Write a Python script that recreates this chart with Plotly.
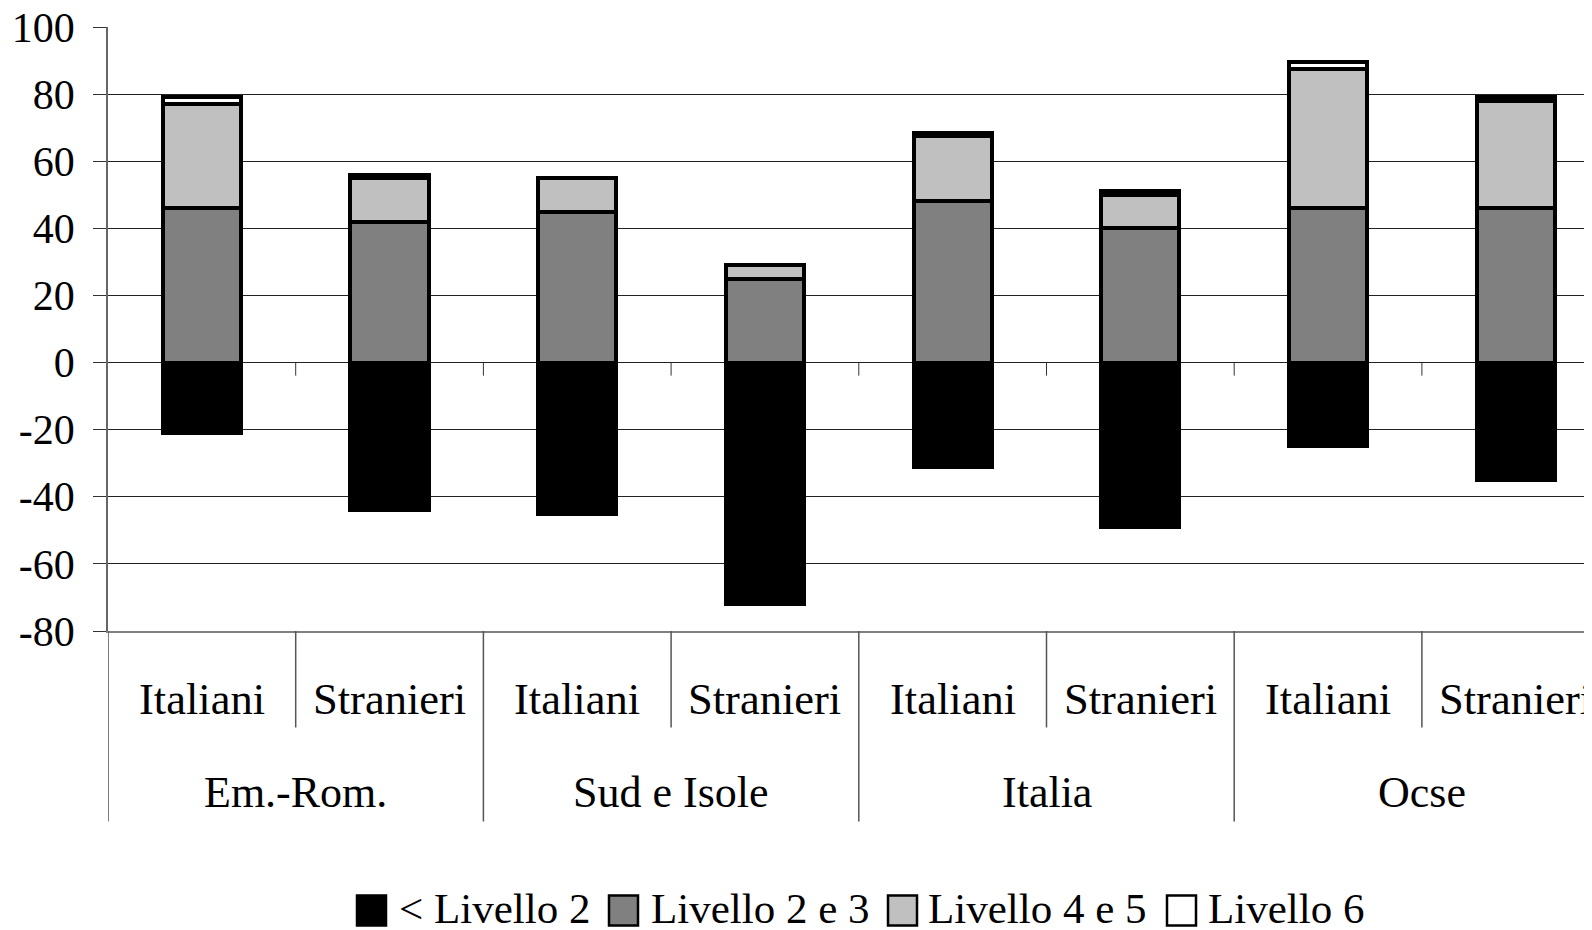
import plotly.graph_objects as go

# ---- data ----
groups = ["Em.-Rom.", "Sud e Isole", "Italia", "Ocse"]
subcats = ["Italiani", "Stranieri"]
below_l2 = [-21, -44, -45, -72, -31, -49, -25, -35]
l2_3 = [46, 42, 45, 25, 48, 40, 46, 46]
l4_5 = [31, 13, 10, 4, 19.5, 10, 41.5, 32]
l6 = [2, 1, 0, 0, 1, 1, 2, 1]
series_names = ["< Livello 2", "Livello 2 e 3", "Livello 4 e 5", "Livello 6"]
series_colors = ["#000000", "#808080", "#C0C0C0", "#FFFFFF"]
y_ticks = [-80, -60, -40, -20, 0, 20, 40, 60, 80, 100]

# ---- layout geometry (pixels, page coords; page body adds an 8px offset) ----
OFF = 8
W, H = 1592, 930
L, T, B = 108 - OFF, 27.4 - OFF, 631.5 - OFF
PW, PH = W - L, B - T
cat_px = 187.7
FONT = "Liberation Serif"

def px_x(px):
    return (px - OFF - L) / PW

def px_y(py):
    return (B - (py - OFF)) / PH

n = len(groups) * len(subcats)
xs = list(range(n))

fig = go.Figure()
for name, col, vals in zip(series_names, series_colors, [below_l2, l2_3, l4_5, l6]):
    fig.add_trace(go.Bar(
        x=xs, y=vals, name=name, width=0.417,
        marker=dict(color=col, line=dict(color="#000000", width=4)),
        showlegend=False,
    ))

shapes = []
annotations = []

for i in xs:
    annotations.append(dict(x=i, y=px_y(700), xref="x", yref="paper",
                            text=subcats[i % 2], showarrow=False,
                            font=dict(family=FONT, size=44.5, color="black"),
                            xanchor="center", yanchor="middle"))
for g, name in enumerate(groups):
    annotations.append(dict(x=2 * g + 0.5, y=px_y(793), xref="x", yref="paper",
                            text=name, showarrow=False,
                            font=dict(family=FONT, size=44, color="black"),
                            xanchor="center", yanchor="middle"))

line_col = "#555555"
for k in range(n + 1):
    xb = k - 0.5
    bottom = 822 if k % 2 == 0 else 728
    shapes.append(dict(type="line", xref="x", yref="paper", x0=xb, x1=xb,
                       y0=0, y1=px_y(bottom), line=dict(color=line_col, width=1.5)))
for k in range(1, n):
    xb = k - 0.5
    shapes.append(dict(type="line", xref="x", yref="y", x0=xb, x1=xb,
                       y0=0, y1=-3.9, line=dict(color="#333333", width=1)))

leg_sq_x = [357, 609, 888, 1167]
leg_txt_x = [397, 649, 926, 1206]
for name, col, sx, tx in zip(series_names, series_colors, leg_sq_x, leg_txt_x):
    shapes.append(dict(type="rect", xref="paper", yref="paper",
                       x0=px_x(sx), x1=px_x(sx + 29), y0=px_y(926), y1=px_y(896),
                       fillcolor=col, line=dict(color="#000000", width=2.5)))
    annotations.append(dict(x=px_x(tx), y=px_y(909), xref="paper", yref="paper",
                            text=name, showarrow=False,
                            font=dict(family=FONT, size=43, color="black"),
                            xanchor="left", yanchor="middle"))

fig.update_layout(
    width=W, height=H,
    margin=dict(l=L, r=0, t=T, b=H - B, pad=0),
    plot_bgcolor="white", paper_bgcolor="white",
    barmode="relative", bargap=0,
    shapes=shapes, annotations=annotations,
    showlegend=False,
    xaxis=dict(range=[-0.5, -0.5 + PW / cat_px], showticklabels=False,
               showgrid=False, zeroline=False, showline=True,
               linecolor="#808080", linewidth=1.5, ticks=""),
    yaxis=dict(range=[-80, 100], tickvals=y_ticks, ticktext=[str(v) for v in y_ticks],
               showgrid=True, gridcolor="#222222", gridwidth=1,
               zeroline=True, zerolinecolor="#222222", zerolinewidth=1,
               showline=True, linecolor="#666666", linewidth=1.5,
               ticks="outside", ticklen=13, tickcolor="#333333", tickwidth=1,
               ticklabelstandoff=10, ticklabeloverflow="allow",
               automargin=False,
               tickfont=dict(family=FONT, size=42, color="black")),
)

fig.write_html("out.html")
